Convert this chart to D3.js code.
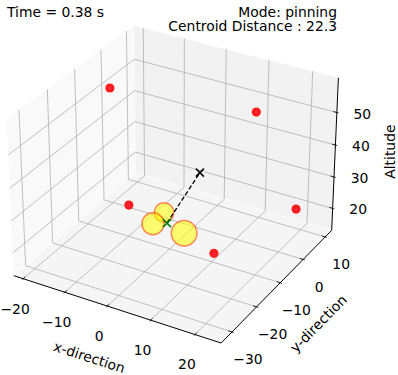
<!DOCTYPE html>
<meta charset="utf-8">
<style>
  body { margin: 0; background: #fff; }
  svg text { font-family: "DejaVu Sans", sans-serif; font-size: 13.9px; fill: #000; }
</style>
<svg width="398" height="375"></svg>
<script src="https://d3js.org/d3.v7.min.js"></script>
<script>

// ticks and axis limits (pane box)
var xTicks = [-20, -10, 0, 10, 20],
    yTicks = [-30, -20, -10, 0, 10],
    zTicks = [20, 30, 40, 50];
var xLim = [-22.3, 25.8],
    yLim = [-34.3, 13.0],
    zLim = [12.9, 60.5];

// red points
var obsX = [-14.0, 11.5, 19.3, -11.8, 12.9],
    obsY = [-9.9, 5.1, 9.0, -6.8, -14.4],
    obsZ = [57.6, 50.0, 20.0, 20.0, 20.0];

// yellow agents
var agentX = [-0.7, -0.4, 6.9],
    agentY = [-11.1, -16.0, -16.0],
    agentZ = [25.0, 25.0, 25.0],
    agentSize = [9.8, 11, 12.8];

// target
var targetX = [10.5], targetY = [-16.1], targetZ = [45.0];

var timeS = 0.38, mode = "pinning", centroidDist = 22.3;

var svg = d3.select("svg");

// matplotlib-like view: elev 30, azim -60, box aspect 4:4:3, dist 10
var elev = 30 * Math.PI / 180, azim = -60 * Math.PI / 180, dist = 10;
var k = 1.8294640721620434 / Math.sqrt(41);
var box = [4 * k, 4 * k, 3 * k];
var sx = d3.scaleLinear().domain(xLim).range([-box[0] / 2, box[0] / 2]),
    sy = d3.scaleLinear().domain(yLim).range([-box[1] / 2, box[1] / 2]),
    sz = d3.scaleLinear().domain(zLim).range([-box[2] / 2, box[2] / 2]);

var w = [Math.cos(elev) * Math.cos(azim), Math.cos(elev) * Math.sin(azim), Math.sin(elev)];
var u = [-w[1], w[0], 0];
var un = Math.hypot(u[0], u[1]);
u = [u[0] / un, u[1] / un, 0];
var v = [w[1] * u[2] - w[2] * u[1], w[2] * u[0] - w[0] * u[2], w[0] * u[1] - w[1] * u[0]];

function dot(a, b) { return a[0] * b[0] + a[1] * b[1] + a[2] * b[2]; }

var S = 2080, ox = 175.5, oy = 177;
function proj(x, y, z) {
  var d = [sx(x), sy(y), sz(z)];
  var zd = dist - dot(w, d);
  return [ox + S * dot(u, d) / zd, oy - S * dot(v, d) / zd];
}

var line = d3.line();
function seg(a, b) { return line([proj.apply(null, a), proj.apply(null, b)]); }

var x0 = xLim[0], x1 = xLim[1], y0 = yLim[0], y1 = yLim[1], z0 = zLim[0], z1 = zLim[1];

// panes
var panes = [
  { c: "#f9f9f9", p: [[x0, y0, z0], [x0, y1, z0], [x0, y1, z1], [x0, y0, z1]] },
  { c: "#f2f2f2", p: [[x0, y1, z0], [x1, y1, z0], [x1, y1, z1], [x0, y1, z1]] },
  { c: "#f5f5f5", p: [[x0, y0, z0], [x1, y0, z0], [x1, y1, z0], [x0, y1, z0]] }
];
svg.append("g").selectAll("path").data(panes).enter().append("path")
  .attr("d", function(d) { return line(d.p.map(function(q) { return proj.apply(null, q); })) + "Z"; })
  .attr("fill", function(d) { return d.c; })
  .attr("stroke", "#fff").attr("stroke-width", 0.5);

// grid
var grid = [];
xTicks.forEach(function(t) { grid.push([[t, y0, z0], [t, y1, z0]], [[t, y1, z0], [t, y1, z1]]); });
yTicks.forEach(function(t) { grid.push([[x0, t, z0], [x1, t, z0]], [[x0, t, z0], [x0, t, z1]]); });
zTicks.forEach(function(t) { grid.push([[x0, y0, t], [x0, y1, t]], [[x0, y1, t], [x1, y1, t]]); });
svg.append("g").selectAll("path").data(grid).enter().append("path")
  .attr("d", function(d) { return seg(d[0], d[1]); })
  .attr("stroke", "#b0b0b0").attr("stroke-width", 0.8).attr("fill", "none");

// axis lines
var axes = svg.append("g").attr("stroke", "#000").attr("fill", "none");
axes.append("path").attr("d", seg([x0, y0, z0], [x1, y0, z0])).attr("stroke-width", 1);
axes.append("path").attr("d", seg([x1, y0, z0], [x1, y1, z0])).attr("stroke-width", 1);
axes.append("path").attr("d", seg([x1, y1, z0], [x1, y1, z1])).attr("stroke-width", 1);

var dX = (x1 - x0) / 12, dY = (y1 - y0) / 12;
var labels = svg.append("g");
xTicks.forEach(function(t) {
  axes.append("path").attr("d", seg([t, y0 - 0.1 * dY, z0], [t, y0 + 0.2 * dY, z0])).attr("stroke-width", 0.8);
  var p = proj(t, y0, z0);
  labels.append("text").attr("x", p[0] - 8).attr("y", p[1] + 29.8)
    .attr("text-anchor", "middle").attr("dy", "0.36em").text(String(t).replace("-", "\u2212"));
});
yTicks.forEach(function(t) {
  axes.append("path").attr("d", seg([x1 + 0.1 * dX, t, z0], [x1 - 0.2 * dX, t, z0])).attr("stroke-width", 0.8);
  var p = proj(x1, t, z0);
  labels.append("text").attr("x", p[0] + 16).attr("y", p[1] + 27.3)
    .attr("text-anchor", "middle").attr("dy", "0.36em").text(String(t).replace("-", "\u2212"));
});
zTicks.forEach(function(t) {
  axes.append("path").attr("d", seg([x1 + 0.1 * dX, y1, t], [x1 - 0.2 * dX, y1, t])).attr("stroke-width", 0.8);
  var p = proj(x1, y1, t);
  labels.append("text").attr("x", p[0] + 25.5).attr("y", p[1] + 1)
    .attr("text-anchor", "middle").attr("dy", "0.36em").text(String(t));
});

// axis titles
function angle(a, b) { var p = proj.apply(null, a), q = proj.apply(null, b); return Math.atan2(q[1] - p[1], q[0] - p[0]) * 180 / Math.PI; }
var mx = proj((x0 + x1) / 2, y0, z0);
labels.append("text").attr("text-anchor", "middle").attr("dy", "0.36em")
  .attr("transform", "translate(" + (mx[0] - 25.4) + "," + (mx[1] + 48.6) + ") rotate(" + angle([x0, y0, z0], [x1, y0, z0]) + ")")
  .text("x-direction");
var my = proj(x1, (y0 + y1) / 2, z0);
labels.append("text").attr("text-anchor", "middle").attr("dy", "0.36em")
  .attr("transform", "translate(" + (my[0] + 39.6) + "," + (my[1] + 39.2) + ") rotate(" + angle([x1, y0, z0], [x1, y1, z0]) + ")")
  .text("y-direction");
var mz = proj(x1, y1, (z0 + z1) / 2);
labels.append("text").attr("text-anchor", "middle").attr("dy", "0.36em")
  .attr("transform", "translate(" + (mz[0] + 55) + "," + (mz[1] - 4) + ") rotate(-90)")
  .text("Altitude");

// red points
var obs = obsX.map(function(x, i) { return proj(x, obsY[i], obsZ[i]); });
var og = svg.append("g");
og.selectAll("circle.o").data(obs).enter().append("circle")
  .attr("cx", function(d) { return d[0]; }).attr("cy", function(d) { return d[1]; })
  .attr("r", 4.6).attr("fill", "#ff1c1c");
og.selectAll("circle.c").data(obs).enter().append("circle")
  .attr("cx", function(d) { return d[0]; }).attr("cy", function(d) { return d[1]; })
  .attr("r", 0.7).attr("fill", "#ff33cc");

// agents
var agents = agentX.map(function(x, i) { return { p: proj(x, agentY[i], agentZ[i]), r: agentSize[i] }; });
svg.append("g").selectAll("circle").data(agents).enter().append("circle")
  .attr("cx", function(d) { return d.p[0]; }).attr("cy", function(d) { return d.p[1]; })
  .attr("r", function(d) { return d.r; })
  .attr("fill", "#ffff00").attr("fill-opacity", 0.55)
  .attr("stroke", "#ff2a00").attr("stroke-opacity", 0.55).attr("stroke-width", 1.5);

// centroid and target
var cen = proj(d3.mean(agentX), d3.mean(agentY), d3.mean(agentZ));
var tgt = proj(targetX[0], targetY[0], targetZ[0]);
svg.append("path").attr("d", line([cen, tgt]))
  .attr("stroke", "#000").attr("stroke-width", 1.3).attr("stroke-dasharray", "4.5,2.2").attr("fill", "none");

function cross(g, p, s, col) {
  g.append("path")
    .attr("d", "M" + (p[0] - s) + "," + (p[1] - s) + "L" + (p[0] + s) + "," + (p[1] + s) +
               "M" + (p[0] - s) + "," + (p[1] + s) + "L" + (p[0] + s) + "," + (p[1] - s))
    .attr("stroke", col).attr("stroke-width", 1.5).attr("fill", "none");
}
cross(svg, cen, 4, "#008000");
cross(svg, tgt, 4, "#000");

// titles
svg.append("text").attr("x", 7).attr("y", 16.7).text("Time = " + timeS + " s");
svg.append("text").attr("x", 337).attr("y", 16.7).attr("text-anchor", "end").text("Mode: " + mode);
svg.append("text").attr("x", 337).attr("y", 31.2).attr("text-anchor", "end").text("Centroid Distance : " + centroidDist);

</script>
